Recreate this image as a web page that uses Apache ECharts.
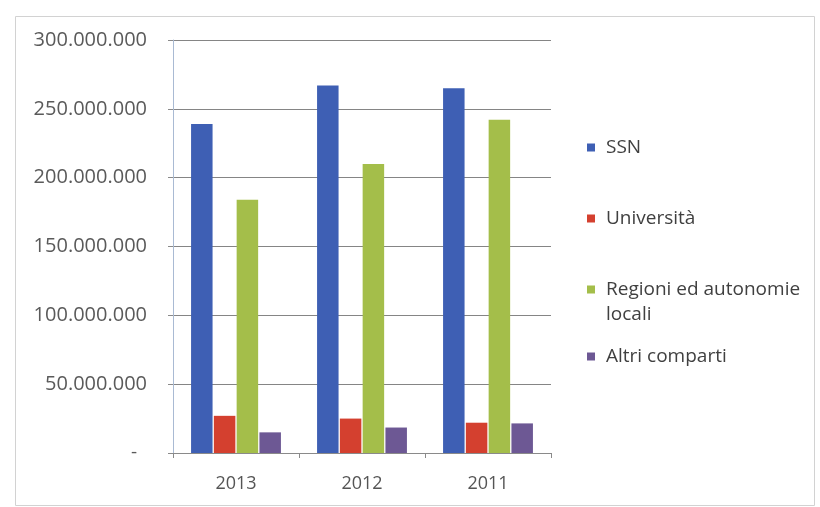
<!DOCTYPE html>
<html>
<head>
<meta charset="utf-8">
<script src="https://cdn.jsdelivr.net/npm/echarts@6/dist/echarts.min.js"></script>
<style>
  html, body { margin: 0; padding: 0; background: #ffffff; }
  #chart { width: 820px; height: 507px; }
</style>
</head>
<body>
<div id="chart"></div>
<script>
// Anni (categorie dell'asse X)
const anni = ['2013', '2012', '2011'];

// Importi per comparto, nello stesso ordine degli anni
const ssn = [239000000, 267000000, 265000000];
const universita = [27000000, 25000000, 22000000];
const regioni = [184000000, 210000000, 242000000];
const altri = [15000000, 18500000, 21500000];

// Scala dell'asse Y
const yMax = 300000000;
const yStep = 50000000;

const FONT = '"Open Sans", "DejaVu Sans", sans-serif';
const colori = {
  ssn: '#3e5fb4',
  universita: '#d4402f',
  regioni: '#a4be4a',
  altri: '#6d5894'
};

// Formato italiano con punto come separatore delle migliaia
function formatoIt(v) {
  if (v === 0) return '{zero|-}';
  return String(Math.round(v)).replace(/\B(?=(\d{3})+(?!\d))/g, '.');
}

const chart = echarts.init(document.getElementById('chart'), null, { renderer: 'canvas' });

const legendBase = {
  orient: 'vertical',
  left: 582,
  icon: 'path://M0 0h8v8h-8z',
  itemWidth: 20,
  itemHeight: 8,
  selectedMode: false,
  textStyle: { fontFamily: FONT, fontSize: 19, color: '#404040', lineHeight: 25 }
};

const option = {
  backgroundColor: '#ffffff',
  animation: false,
  grid: { left: 173, right: 269, top: 40, bottom: 54, containLabel: false },
  legend: [
    Object.assign({}, legendBase, { data: ['SSN'], top: 130 }),
    Object.assign({}, legendBase, { data: ['Università'], top: 201 }),
    // voce su due righe: il quadratino resta allineato alla prima riga
    Object.assign({}, legendBase, {
      data: ['Regioni ed autonomie\nlocali'], top: 272, left: 576,
      itemHeight: 33,
      icon: 'path://M6 0h8v8h-8z M0 0h0.001v0.001h-0.001z M20 33h-0.001v-0.001h0.001z'
    }),
    Object.assign({}, legendBase, { data: ['Altri comparti'], top: 339 })
  ],
  xAxis: {
    type: 'category',
    data: anni,
    axisLine: { show: true, lineStyle: { color: '#8a8a8a', width: 1 } },
    axisTick: { show: true, length: 5, alignWithLabel: false, lineStyle: { color: '#8a8a8a' } },
    axisLabel: { fontFamily: FONT, fontSize: 18, color: '#555555', margin: 22 },
    splitLine: { show: false }
  },
  yAxis: {
    type: 'value',
    min: 0,
    max: yMax,
    interval: yStep,
    axisLine: { show: true, lineStyle: { color: '#a9bad3', width: 1 } },
    axisTick: { show: true, length: 5, lineStyle: { color: '#8a8a8a' } },
    axisLabel: {
      fontFamily: FONT, fontSize: 20, color: '#5a5a5a', margin: 26,
      formatter: formatoIt,
      rich: { zero: { fontFamily: FONT, fontSize: 19, color: '#5a5a5a', padding: [0, 10, 0, 0] } }
    },
    splitLine: { show: true, lineStyle: { color: '#858585', width: 1 } }
  },
  series: [
    { name: 'SSN', type: 'bar', data: ssn, itemStyle: { color: colori.ssn },
      barWidth: 21.5, barGap: '6%' },
    { name: 'Università', type: 'bar', data: universita, itemStyle: { color: colori.universita },
      barWidth: 21.5, barGap: '6%' },
    { name: 'Regioni ed autonomie\nlocali', type: 'bar', data: regioni, itemStyle: { color: colori.regioni },
      barWidth: 21.5, barGap: '6%' },
    { name: 'Altri comparti', type: 'bar', data: altri, itemStyle: { color: colori.altri },
      barWidth: 21.5, barGap: '6%' }
  ],
  graphic: [
    {
      type: 'rect',
      left: 13, top: 14,
      shape: { width: 799, height: 489 },
      style: { fill: 'none', stroke: '#d2d2d2', lineWidth: 1 },
      silent: true,
      z: -1
    }
  ]
};

chart.setOption(option);
</script>
</body>
</html>
